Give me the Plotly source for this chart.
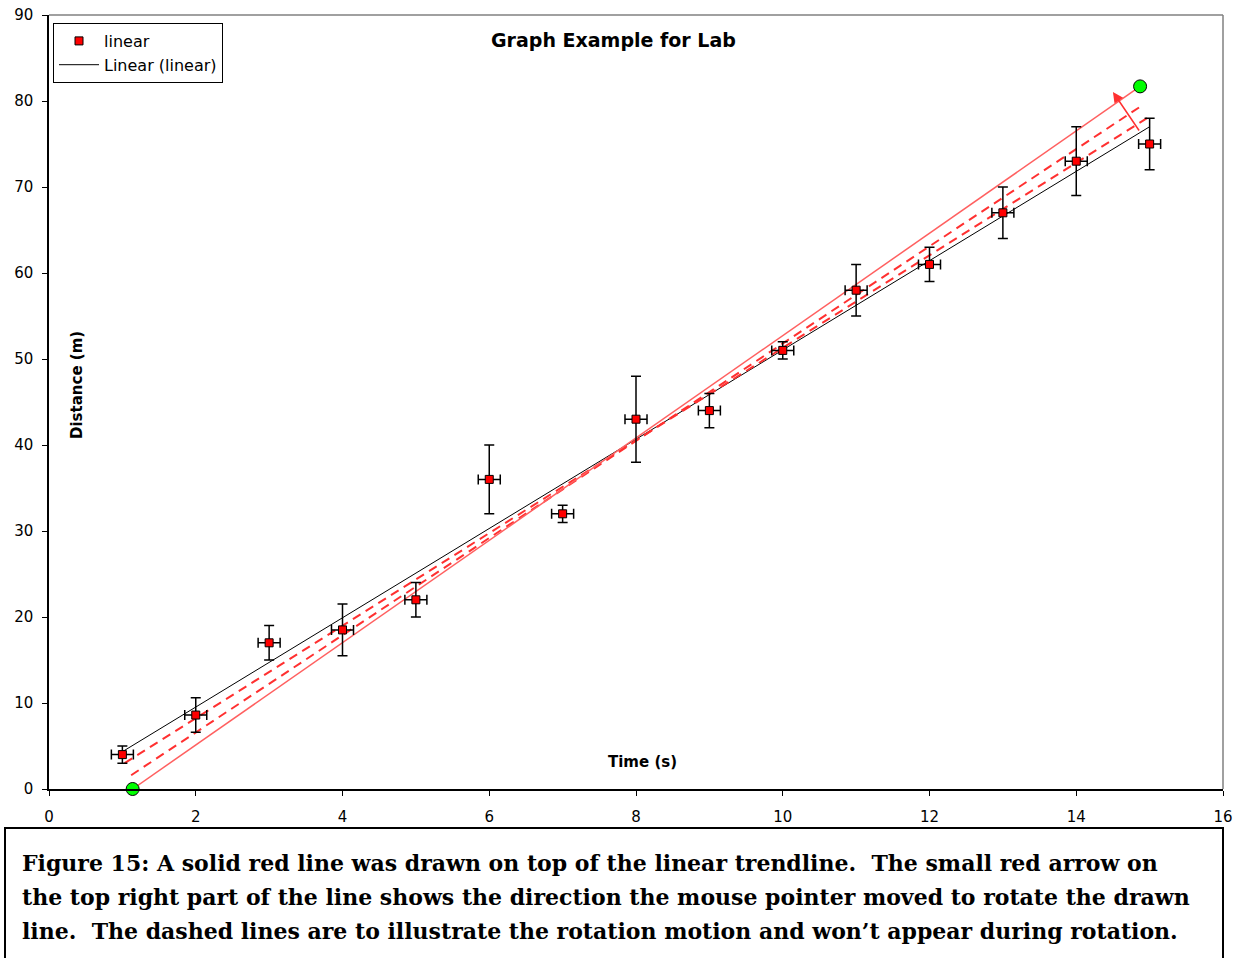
import numpy as np
import plotly.graph_objects as go

# ---- data ----
time_s = [1, 2, 3, 4, 5, 6, 7, 8, 9, 10, 11, 12, 13, 14, 15]
distance_m = [4, 8.6, 17, 18.5, 22, 36, 32, 43, 44, 51, 58, 61, 67, 73, 75]
dist_err = [1, 2, 2, 3, 2, 4, 1, 5, 2, 1, 3, 2, 3, 4, 3]
time_err = [0.15] * 15

drawn_x = [1.14, 14.87]
drawn_y = [0.0, 81.7]
dash1_x = [1.03, 14.98]
dash1_y = [3.0, 78.1]
dash2_x = [1.12, 14.90]
dash2_y = [1.6, 79.5]
arrow_from = (14.87, 76.4)
arrow_to = (14.50, 81.05)

x_ticks = list(range(0, 17, 2))
y_ticks = list(range(0, 91, 10))

caption_lines = [
    "Figure 15: A solid red line was drawn on top of the linear trendline.\u00a0 The small red arrow on",
    "the top right part of the line shows the direction the mouse pointer moved to rotate the drawn",
    "line.\u00a0 The dashed lines are to illustrate the rotation motion and won\u2019t appear during rotation.",
]

# linear trendline through library fit
slope, intercept = np.polyfit(time_s, distance_m, 1)
trend_x = [min(time_s), max(time_s)]
trend_y = [slope * v + intercept for v in trend_x]

L, R, T, B = 49, 15, 15, 169
PW, PH = 1174, 774  # plot area size in px


def px_x(px):
    return (px - 49) / PW


def px_y(py):
    return (789 - py) / PH


fig = go.Figure()

fig.add_trace(go.Scatter(
    x=trend_x, y=trend_y, mode="lines", name="Linear (linear)",
    line=dict(color="black", width=1), showlegend=False))

fig.add_trace(go.Scatter(
    x=dash1_x, y=dash1_y, mode="lines", showlegend=False,
    line=dict(color="#ff3030", width=2, dash="9px,6px")))
fig.add_trace(go.Scatter(
    x=dash2_x, y=dash2_y, mode="lines", showlegend=False,
    line=dict(color="#ff3030", width=2, dash="9px,6px")))
fig.add_trace(go.Scatter(
    x=drawn_x, y=drawn_y, mode="lines", showlegend=False,
    line=dict(color="#ff6060", width=1.5)))

fig.add_trace(go.Scatter(
    x=time_s, y=distance_m, mode="markers", name="linear",
    marker=dict(symbol="square", size=8, color="red",
                line=dict(color="black", width=1)),
    error_y=dict(type="data", array=dist_err, visible=True,
                 color="black", thickness=1.5, width=5),
    error_x=dict(type="data", array=time_err, visible=True,
                 color="black", thickness=1.5, width=5),
    cliponaxis=False))

# legend entry for the trendline
fig.add_trace(go.Scatter(
    x=[None], y=[None], mode="lines", name="Linear (linear)",
    line=dict(color="black", width=1)))

fig.add_trace(go.Scatter(
    x=drawn_x, y=drawn_y, mode="markers", showlegend=False,
    marker=dict(symbol="circle", size=13, color="#00ff00",
                line=dict(color="black", width=1)),
    cliponaxis=False))

fig.add_annotation(
    x=arrow_to[0], y=arrow_to[1], ax=arrow_from[0], ay=arrow_from[1],
    xref="x", yref="y", axref="x", ayref="y", text="",
    showarrow=True, arrowhead=2, arrowsize=1.4, arrowwidth=1.5,
    arrowcolor="#ff3030")

chart_font = "DejaVu Sans, Verdana, sans-serif"

fig.add_annotation(
    text="<b>Graph Example for Lab</b>", xref="paper", yref="paper",
    x=px_x(613), y=px_y(40), xanchor="center", yanchor="middle", showarrow=False,
    font=dict(family=chart_font, size=19, color="black"))
fig.add_annotation(
    text="<b>Time (s)</b>", xref="paper", yref="paper",
    x=px_x(643), y=px_y(762), xanchor="center", yanchor="middle", showarrow=False,
    font=dict(family=chart_font, size=15, color="black"))
fig.add_annotation(
    text="<b>Distance (m)</b>", xref="paper", yref="paper",
    x=px_x(77), y=px_y(385), xanchor="center", yanchor="middle", showarrow=False,
    textangle=-90, font=dict(family=chart_font, size=15, color="black"))

# plot-area top/right gray border
fig.add_shape(type="line", xref="paper", yref="paper", x0=0, x1=1, y0=1, y1=1,
              line=dict(color="#808080", width=1.5))
fig.add_shape(type="line", xref="paper", yref="paper", x0=1, x1=1, y0=0, y1=1,
              line=dict(color="#808080", width=1.5))

# caption box
fig.add_shape(type="rect", xref="paper", yref="paper",
              x0=px_x(5), x1=px_x(1223), y0=px_y(975), y1=px_y(828),
              line=dict(color="black", width=2), fillcolor="rgba(0,0,0,0)")
for i, line in enumerate(caption_lines):
    ypix = 863 + 34 * i
    fig.add_annotation(
        text="<b>" + line + "</b>", xref="paper", yref="paper",
        x=px_x(20), y=px_y(ypix), xanchor="left", yanchor="middle",
        showarrow=False, align="left",
        font=dict(family="DejaVu Serif, serif", size=22, color="black"))

fig.update_layout(
    width=1238, height=958,
    margin=dict(l=L, r=R, t=T, b=B, autoexpand=False),
    paper_bgcolor="white", plot_bgcolor="white",
    font=dict(family=chart_font, size=14, color="black"),
    legend=dict(x=px_x(53), y=px_y(23), xanchor="left", yanchor="top",
                bordercolor="black", borderwidth=1, bgcolor="white",
                font=dict(family=chart_font, size=16), tracegroupgap=0,
                itemwidth=40),
    xaxis=dict(range=[0, 16], tickvals=x_ticks, ticks="outside", ticklen=5,
               tickcolor="black", showline=True, linecolor="black", linewidth=1.5,
               showgrid=False, zeroline=False, ticklabelstandoff=8, automargin=False,
               ticklabeloverflow="allow",
               tickfont=dict(family=chart_font, size=15)),
    yaxis=dict(range=[0, 90], tickvals=y_ticks, ticks="outside", ticklen=5,
               tickcolor="black", showline=True, linecolor="black", linewidth=1.5,
               showgrid=False, zeroline=False, ticklabelstandoff=6, automargin=False,
               ticklabeloverflow="allow",
               tickfont=dict(family=chart_font, size=15)),
    showlegend=True,
)

fig.write_html("out.html", config={"displayModeBar": False},
               post_script="document.body.style.margin='0';")
